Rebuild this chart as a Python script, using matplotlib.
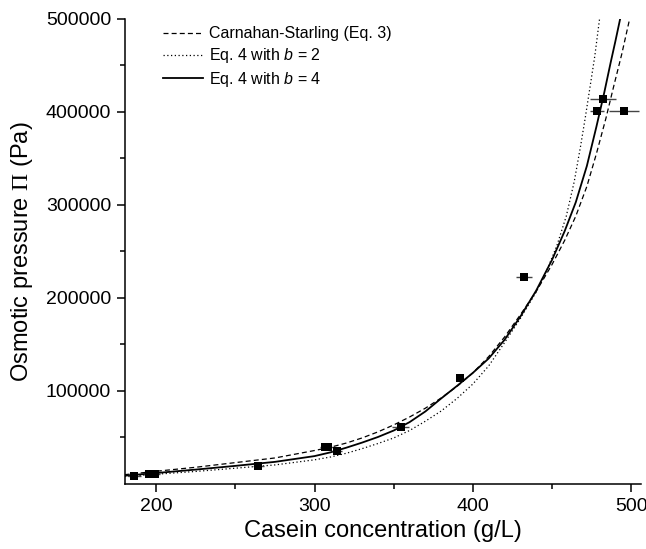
import matplotlib
matplotlib.use("Agg")
import matplotlib.pyplot as plt

# measured points (casein g/L, osmotic pressure Pa)
conc = [186.2, 195.5, 199.0, 264.6, 306.5, 308.5, 314.1, 354.3, 392.0, 432.4, 478.3, 482.1, 495.6]
pressure = [8100, 10500, 10500, 19700, 40300, 40300, 35200, 61500, 113900, 222900, 401600, 414100, 401600]
conc_err = [4.0, 3.0, 3.5, 3.5, 3.0, 3.0, 3.0, 5.3, 1.5, 5.0, 4.5, 8.1, 9.6]

# model curves
cs_x = [180, 200, 225, 250, 275, 300, 310, 320, 330, 340, 350, 360, 370, 380, 390, 400,
        410, 420, 430, 440, 450, 458, 465, 472, 478, 484, 489, 494, 499]
cs_y = [10000, 13700, 18000, 23000, 28000, 36000, 39500, 44000, 49500, 56000, 63500, 72000,
        81500, 92500, 105000, 119500, 137000, 158000, 182000, 207000, 236000, 262000, 288000,
        320000, 355000, 393000, 428000, 462000, 500000]

b2_x = [180, 200, 225, 250, 275, 300, 310, 320, 330, 340, 350, 360, 370, 380, 390, 400,
        410, 420, 430, 440, 447, 453, 459, 464, 468, 471, 474, 477, 480]
b2_y = [8000, 10500, 13500, 17000, 20500, 26000, 29000, 33000, 38000, 43500, 49500, 57500,
        67500, 78500, 92000, 107500, 127000, 152000, 178000, 206500, 231000, 256000, 288000,
        325000, 363000, 394000, 427000, 460000, 500000]

b4_x = [180, 200, 225, 250, 275, 300, 310, 320, 330, 340, 350, 360, 370, 380, 390, 400,
        410, 420, 430, 440, 450, 458, 465, 472, 478, 483, 487, 490, 493]
b4_y = [8900, 11800, 15500, 19500, 23800, 30000, 34000, 39000, 44500, 50500, 57500, 66500,
        78000, 92000, 105500, 119500, 135000, 155000, 180000, 208000, 241000, 272000, 303000,
        342000, 384000, 421000, 453000, 476000, 500000]

labels = ["Carnahan-Starling (Eq. 3)", "Eq. 4 with $b$ = 2", "Eq. 4 with $b$ = 4"]

plt.rcParams['font.family'] = ['Liberation Sans', 'DejaVu Sans']
plt.rcParams['mathtext.fontset'] = 'custom'
plt.rcParams['mathtext.rm'] = 'Liberation Serif'
plt.rcParams['mathtext.it'] = 'Liberation Sans:italic'

fig = plt.figure(figsize=(6.46, 5.49), dpi=100)
ax = fig.add_axes([0.1935, 0.1184, 0.7983, 0.8470])

ax.plot(cs_x, cs_y, color='black', lw=0.9, ls=(0, (4, 2.5)), label=labels[0])
ax.plot(b2_x, b2_y, color='black', lw=0.9, ls=(0, (1, 2)), label=labels[1])
ax.plot(b4_x, b4_y, color='black', lw=1.3, ls='-', label=labels[2])

ax.errorbar(conc, pressure, xerr=conc_err, fmt='s', color='black', ms=6, mew=0,
            ecolor='#444444', elinewidth=1, capsize=5, capthick=1, zorder=5)

ax.set_xlim(180.3, 506)
ax.set_ylim(0, 500000)
ax.set_xticks([200, 300, 400, 500])
ax.set_xticks([250, 350, 450], minor=True)
ax.set_yticks([100000, 200000, 300000, 400000, 500000])
ax.set_yticks([50000, 150000, 250000, 350000, 450000], minor=True)

for s in ['top', 'right']:
    ax.spines[s].set_visible(False)
for s in ['left', 'bottom']:
    ax.spines[s].set_linewidth(1.1)

ax.tick_params(which='major', direction='out', length=6, width=1.1, labelsize=14, pad=4)
ax.tick_params(which='minor', direction='out', length=3.5, width=1.1)

ax.set_xlabel("Casein concentration (g/L)", fontsize=17, labelpad=4)
ax.set_ylabel(r"Osmotic pressure $\Pi$ (Pa)", fontsize=17, labelpad=8)

ax.legend(loc='upper left', bbox_to_anchor=(0.0737, 0.984), frameon=False, fontsize=11.5,
          borderpad=0, borderaxespad=0, handlelength=2.5, handletextpad=0.4, labelspacing=0.3)

fig.savefig("out.png", dpi=100)
